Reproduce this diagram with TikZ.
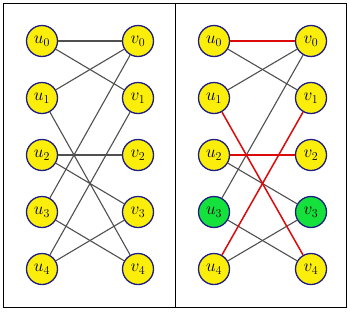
\documentclass[tikz,border=0pt]{standalone}
\begin{document}
\begin{tikzpicture}[x=1pt,y=-1pt,
  vtx/.style={circle,draw=navyv,line width=1.3pt,fill=yellowv,minimum size=31pt,inner sep=0pt,font=\fontsize{18}{20}\selectfont},
  gvtx/.style={vtx,fill=greenv},
  edge/.style={draw=edgegray,line width=1.1pt},
  redge/.style={draw=redv,line width=1.5pt},
  frame/.style={draw=black,line width=1.5pt}]
\definecolor{yellowv}{RGB}{250,238,10}
\definecolor{greenv}{RGB}{20,225,60}
\definecolor{navyv}{RGB}{30,30,130}
\definecolor{edgegray}{RGB}{80,80,80}
\definecolor{redv}{RGB}{220,10,10}
\useasboundingbox (0,0) rectangle (350,311);
\fill[white] (0,0) rectangle (350,311);
\draw[frame] (3.5,3.5) rectangle (175.5,307.5);
\draw[frame] (175.5,3.5) rectangle (346.5,307.5);
% left panel
\foreach \i in {0,...,4}{
  \node[vtx] (Lu\i) at (42,{41+57*\i}) {$u_{\i}$};
  \node[vtx] (Lv\i) at (138,{41+57*\i}) {$v_{\i}$};
}
% right panel nodes
\foreach \i in {0,1,2,4}{
  \node[vtx] (Ru\i) at (214,{41+57*\i}) {$u_{\i}$};
  \node[vtx] (Rv\i) at (311,{41+57*\i}) {$v_{\i}$};
}
\node[gvtx] (Ru3) at (214,{41+57*3}) {$u_{3}$};
\node[gvtx] (Rv3) at (311,{41+57*3}) {$v_{3}$};
% left edges
\draw[edge] (Lu0) -- (Lv0);
\draw[edge] (Lu0) -- (Lv1);
\draw[edge] (Lu1) -- (Lv0);
\draw[edge] (Lu1) -- (Lv4);
\draw[edge] (Lu2) -- (Lv2);
\draw[edge] (Lu2) -- (Lv3);
\draw[edge] (Lu3) -- (Lv0);
\draw[edge] (Lu3) -- (Lv4);
\draw[edge] (Lu4) -- (Lv1);
\draw[edge] (Lu4) -- (Lv3);
% right edges
\draw[edge] (Ru0) -- (Rv1);
\draw[edge] (Ru1) -- (Rv0);
\draw[edge] (Ru3) -- (Rv0);
\draw[edge] (Ru2) -- (Rv3);
\draw[edge] (Ru3) -- (Rv4);
\draw[edge] (Ru4) -- (Rv3);
\draw[redge] (Ru0) -- (Rv0);
\draw[redge] (Ru1) -- (Rv4);
\draw[redge] (Ru2) -- (Rv2);
\draw[redge] (Ru4) -- (Rv1);
\end{tikzpicture}
\end{document}
